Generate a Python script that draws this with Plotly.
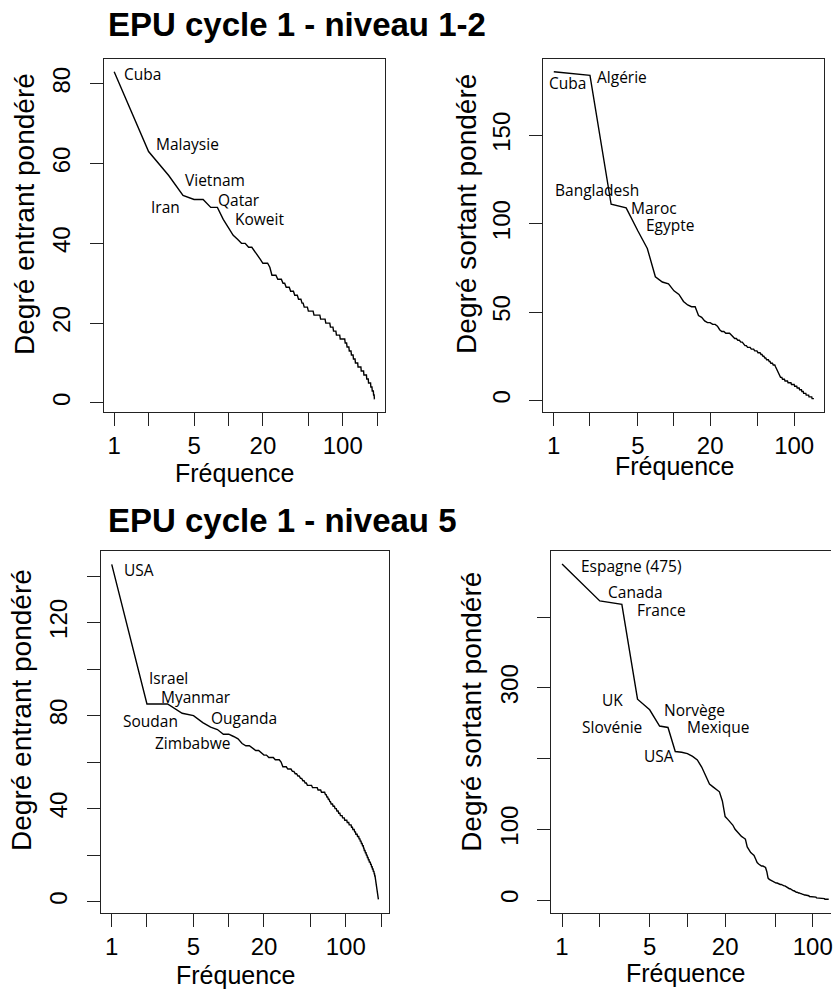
import math
import plotly.graph_objects as go

# ---------------- data ----------------
in_12 = [83, 63, 57, 52, 51, 51, 49, 49, 46, 44,
         42, 41, 40, 40, 39, 39, 38, 37, 36, 35,
         35, 35, 34, 32, 32, 32, 31, 31, 31, 30,
         30, 29, 29, 29, 28, 28, 28, 27, 27, 27,
         26, 26, 26, 25, 25, 24, 24, 24, 24, 23,
         23, 23, 23, 23, 23, 22, 22, 22, 22, 22,
         22, 22, 22, 21, 21, 21, 21, 21, 21, 21,
         20, 20, 20, 20, 20, 20, 20, 19, 19, 19,
         19, 19, 18, 18, 18, 18, 18, 17, 17, 17,
         17, 17, 17, 17, 16, 16, 16, 16, 16, 16,
         16, 16, 16, 16, 15, 15, 15, 15, 14, 14,
         14, 14, 14, 13, 13, 13, 13, 13, 12, 12,
         12, 12, 12, 11, 11, 11, 11, 11, 10, 10,
         10, 10, 10, 10, 10, 9, 9, 9, 9, 9,
         9, 9, 9, 9, 8, 8, 8, 8, 8, 8,
         8, 8, 7, 7, 7, 7, 7, 7, 7, 7,
         7, 6, 6, 6, 6, 6, 6, 5, 5, 5,
         5, 5, 5, 5, 5, 4, 4, 4, 4, 4,
         3, 3, 3, 3, 3, 2, 2, 2, 1, 1]

out_12 = [186, 184, 111, 109, 96, 86, 70, 67, 66, 62,
          60, 56, 54, 53, 53, 48, 47, 45, 44, 44,
          43, 43, 42, 40, 39, 39, 38, 38, 38, 37,
          36, 35, 35, 34, 34, 33, 33, 32, 31, 31,
          30, 30, 30, 29, 29, 29, 28, 28, 28, 27,
          27, 27, 26, 26, 25, 25, 24, 24, 23, 23,
          23, 22, 22, 21, 21, 21, 20, 20, 20, 19,
          18, 17, 16, 15, 14, 14, 13, 13, 13, 12,
          12, 12, 12, 11, 11, 11, 11, 11, 10, 10,
          10, 10, 10, 10, 9, 9, 9, 9, 9, 9,
          8, 8, 8, 8, 8, 7, 7, 7, 7, 7,
          6, 6, 6, 6, 6, 5, 5, 5, 5, 4,
          4, 4, 4, 4, 4, 3, 3, 3, 3, 3,
          3, 3, 2, 2, 2, 2, 2, 2, 2, 2,
          1, 1, 1, 1, 1, 1]

in_5 = [145, 85, 85, 81, 80, 77, 75, 74, 72, 72,
        71, 70, 68, 67, 67, 66, 65, 65, 64, 63,
        63, 62, 62, 62, 61, 61, 61, 60, 58, 58,
        58, 57, 57, 57, 56, 56, 55, 55, 54, 54,
        53, 53, 52, 52, 51, 51, 50, 50, 50, 50,
        50, 49, 49, 49, 49, 49, 49, 48, 48, 48,
        48, 47, 47, 47, 47, 47, 46, 46, 45, 45,
        44, 44, 43, 43, 42, 42, 42, 41, 41, 41,
        40, 40, 40, 39, 39, 39, 38, 38, 38, 37,
        37, 37, 37, 36, 36, 36, 36, 35, 35, 35,
        35, 35, 34, 34, 34, 34, 33, 33, 33, 33,
        33, 32, 32, 32, 31, 31, 31, 31, 30, 30,
        30, 29, 29, 29, 29, 28, 28, 28, 28, 27,
        27, 27, 26, 26, 26, 25, 25, 25, 24, 24,
        24, 23, 23, 22, 22, 22, 21, 21, 21, 20,
        20, 20, 19, 19, 19, 18, 18, 18, 17, 17,
        17, 17, 16, 16, 16, 15, 15, 15, 14, 14,
        14, 13, 13, 13, 12, 12, 11, 11, 10, 9,
        8, 8, 7, 6, 6, 5, 4, 3, 2, 1]

out_5 = [475, 423, 418, 284, 269, 246, 244, 210, 209, 207,
         203, 198, 188, 175, 164, 160, 157, 153, 140, 118,
         114, 110, 106, 100, 96, 92, 90, 88, 86, 75,
         70, 67, 65, 63, 58, 53, 51, 49, 48, 48,
         47, 46, 40, 31, 29, 28, 27, 26, 25, 25,
         24, 24, 23, 23, 22, 22, 21, 21, 20, 20,
         19, 18, 18, 17, 16, 16, 15, 14, 14, 13,
         13, 12, 12, 11, 11, 10, 10, 10, 9, 9,
         9, 8, 8, 8, 7, 7, 7, 7, 6, 6,
         6, 6, 6, 5, 5, 5, 5, 5, 5, 4,
         4, 4, 4, 4, 4, 4, 3, 3, 3, 3,
         3, 3, 3, 3, 2, 2, 2, 2, 2, 2,
         2, 2, 2, 2, 1, 1, 1, 1, 1, 1,
         1, 1, 1, 1]

labels_in_12 = [("Cuba", 1.76, 82.4), ("Malaysie", 4.35, 65), ("Vietnam", 7.57, 55.8),
                ("Iran", 2.82, 49), ("Qatar", 12.4, 50.8), ("Koweit", 18.5, 46.2)]
labels_out_12 = [("Cuba", 1.29, 179.7), ("Algérie", 3.71, 183.3), ("Bangladesh", 2.28, 119.2),
                 ("Maroc", 6.76, 109), ("Egypte", 9.29, 99.5)]
labels_in_5 = [("USA", 1.72, 142.4), ("Israel", 3.03, 96.2), ("Myanmar", 5.22, 88.1),
               ("Soudan", 2.13, 77.8), ("Ouganda", 13.4, 78.8), ("Zimbabwe", 4.9, 68)]
labels_out_5 = [("Espagne (475)", 3.56, 472), ("Canada", 3.85, 435), ("France", 6.18, 410),
                ("UK", 2.54, 283), ("Slovénie", 2.5, 244), ("Norvège", 11.4, 268),
                ("Mexique", 17.6, 244), ("USA", 5.96, 203)]

x_tickvals_long = [1, 2, 5, 10, 20, 50, 100, 200]
x_ticktext_long = ["1", "", "5", "", "20", "", "100", ""]
x_tickvals_short = [1, 2, 5, 10, 20, 50, 100]
x_ticktext_short = ["1", "", "5", "", "20", "", "100"]

titles = ["EPU cycle 1 - niveau 1-2", "EPU cycle 1 - niveau 5"]
xlab = "Fréquence"
ylab_in = "Degré entrant pondéré"
ylab_out = "Degré sortant pondéré"

# ---------------- layout helpers ----------------
W, H = 833, 989
AXF = "Liberation Sans, Arial, sans-serif"
LBLF = "Open Sans, sans-serif"


def fx(p):
    return p / W


def fy(p):
    return 1 - p / H


panels = [
    dict(vals=in_12, labels=labels_in_12, xd=(104, 386), yd=(58.7, 412),
         tv=x_tickvals_long, tt=x_ticktext_long,
         ytv=[0, 20, 40, 60, 80], ytt=["0", "20", "40", "60", "80"],
         ylab=ylab_in, xlab_pos=(236, 473), ylab_pos=(24, 214), clip=None),
    dict(vals=out_12, labels=labels_out_12, xd=(544.7, 826.3), yd=(58.7, 411.7),
         tv=x_tickvals_short, tt=x_ticktext_short,
         ytv=[0, 50, 100, 150], ytt=["0", "50", "100", "150"],
         ylab=ylab_out, xlab_pos=(677, 466), ylab_pos=(467, 214), clip=None),
    dict(vals=in_5, labels=labels_in_5, xd=(101.3, 390), yd=(551, 912.7),
         tv=x_tickvals_long, tt=x_ticktext_long,
         ytv=[0, 20, 40, 60, 80, 100, 120, 140], ytt=["0", "", "40", "", "80", "", "120", ""],
         ylab=ylab_in, xlab_pos=(237, 975), ylab_pos=(21, 710), clip=None),
    dict(vals=out_5, labels=labels_out_5, xd=(552.7, 841.4), yd=(550.7, 912.7),
         tv=x_tickvals_short, tt=x_ticktext_short,
         ytv=[0, 100, 200, 300, 400], ytt=["0", "100", "", "300", ""],
         ylab=ylab_out, xlab_pos=(688, 973), ylab_pos=(472, 712), clip=833),
]

fig = go.Figure()
annotations = []
layout = {}

for i, p in enumerate(panels, start=1):
    sfx = "" if i == 1 else str(i)
    vals = p["vals"]
    n = len(vals)
    ranks = list(range(1, n + 1))
    L = math.log10(n)
    xr = [-0.04 * L, 1.04 * L]
    x0, x1 = p["xd"]
    xdom_right = x1
    if p["clip"] is not None:
        # plot box runs past the right edge of the page: cut range at the page edge
        scale = (x1 - x0) / (xr[1] - xr[0])
        xr = [xr[0], xr[0] + (p["clip"] - x0) / scale]
        xdom_right = p["clip"]
    vmin, vmax = min(vals), max(vals)
    span = vmax - vmin
    yr = [vmin - 0.04 * span, vmax + 0.04 * span]

    fig.add_trace(go.Scatter(x=ranks, y=vals, mode="lines",
                             line=dict(color="black", width=1.4),
                             xaxis="x" + sfx, yaxis="y" + sfx,
                             showlegend=False, hoverinfo="skip"))

    layout["xaxis" + sfx] = dict(
        type="log", domain=[fx(x0), min(1.0, fx(xdom_right))], range=xr,
        anchor="y" + sfx, tickmode="array", tickvals=p["tv"], ticktext=p["tt"],
        ticks="outside", ticklen=13, tickwidth=1.2, tickcolor="#222",
        showline=True, mirror=True, linecolor="#222", linewidth=1.3,
        showgrid=False, zeroline=False, ticklabelstandoff=-1,
        ticklabeloverflow="allow",
        tickfont=dict(family=AXF, size=24, color="black"))
    layout["yaxis" + sfx] = dict(
        domain=[fy(p["yd"][1]), fy(p["yd"][0])], range=yr,
        anchor="x" + sfx, tickmode="array", tickvals=p["ytv"], ticktext=p["ytt"],
        ticks="outside", ticklen=13, tickwidth=1.2, tickcolor="#222",
        showline=True, mirror=(p["clip"] is None), linecolor="#222", linewidth=1.3,
        showgrid=False, zeroline=False, tickangle=-90, ticklabelstandoff=10,
        tickfont=dict(family=AXF, size=24, color="black"))

    for (txt, rx, ry) in p["labels"]:
        annotations.append(dict(text=txt, x=math.log10(rx), y=ry,
                                xref="x" + sfx, yref="y" + sfx,
                                showarrow=False, xanchor="center", yanchor="middle",
                                font=dict(family=LBLF, size=15.5, color="black")))

    annotations.append(dict(text=xlab, x=fx(p["xlab_pos"][0]), y=fy(p["xlab_pos"][1]),
                            xref="paper", yref="paper", showarrow=False,
                            xanchor="center", yanchor="middle",
                            font=dict(family=AXF, size=25, color="black")))
    annotations.append(dict(text=p["ylab"], x=fx(p["ylab_pos"][0]), y=fy(p["ylab_pos"][1]),
                            xref="paper", yref="paper", showarrow=False, textangle=-90,
                            xanchor="center", yanchor="middle",
                            font=dict(family=AXF, size=28, color="black")))

for t, ty in zip(titles, [25, 520]):
    annotations.append(dict(text="<b>" + t + "</b>", x=fx(106), y=fy(ty),
                            xref="paper", yref="paper", showarrow=False,
                            xanchor="left", yanchor="middle",
                            font=dict(family=AXF, size=33, color="black")))

fig.update_layout(**layout)
fig.update_layout(width=W, height=H, margin=dict(l=0, r=0, t=0, b=0),
                  paper_bgcolor="white", plot_bgcolor="white",
                  annotations=annotations, showlegend=False)

fig.write_html("out.html",
               config={"displayModeBar": False},
               post_script="document.body.style.margin='0';"
                           "document.body.style.overflow='hidden';")
